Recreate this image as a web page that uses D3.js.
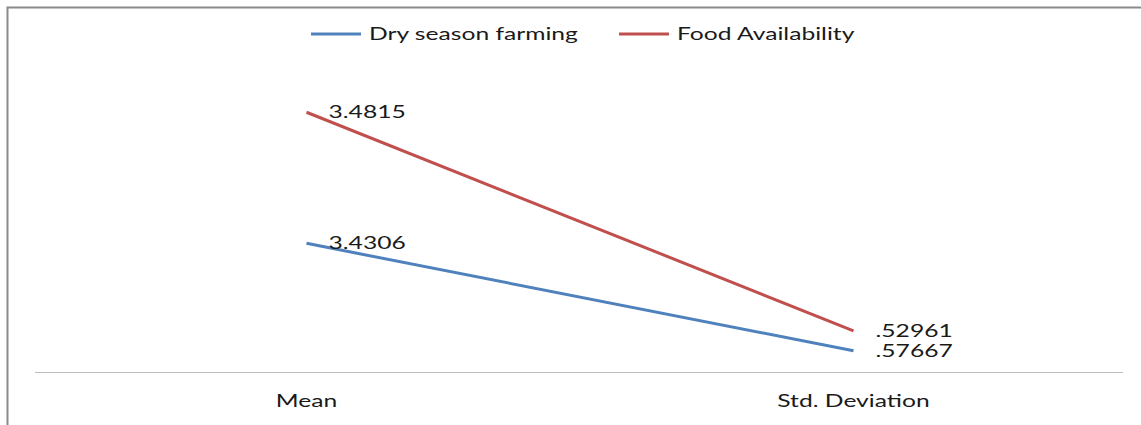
<!DOCTYPE html>
<html>
<head>
<meta charset="utf-8">
<script src="https://cdn.jsdelivr.net/npm/d3@7"></script>
<style>
  html, body { margin: 0; padding: 0; background: #fff; }
  svg { display: block; }
  text { font-family: Lato, "Open Sans", sans-serif; fill: #1a1a1a; }
</style>
</head>
<body>
<svg id="chart" width="1141" height="425"></svg>
<script>
// Statistics compared
const categories = ["Mean", "Std. Deviation"];
const seriesNames = ["Dry season farming", "Food Availability"];
const dryFarming = [3.4306, 0.57667];
const foodAvailability = [3.4815, 0.52961];
const valueLabels = [["3.4306", ".57667"], ["3.4815", ".52961"]];
const colors = ["#4f81bd", "#c0504d"];

const W = 1141, H = 425;
const svg = d3.select("#chart");
const textStretch = 1.45;
const fontSize = "17px";

// frame
svg.append("path")
  .attr("d", `M7.5,${H} V7.5 H${W}`)
  .attr("fill", "none")
  .attr("stroke", "#8a8a8a")
  .attr("stroke-width", 2);

const rows = categories.map((c, i) => ({
  category: c,
  [seriesNames[0]]: dryFarming[i],
  [seriesNames[1]]: foodAvailability[i]
}));
const stacked = d3.stack().keys(seriesNames)(rows);

const x = d3.scaleBand().domain(categories).range([33, 1127]);
const y = d3.scaleLinear().domain([0, 8]).range([372.5, 71.3]);
const cx = c => x(c) + x.bandwidth() / 2;

// category axis
const axis = svg.append("g").attr("transform", `translate(0,${y(0)})`)
  .call(d3.axisBottom(x).tickSize(0).tickPadding(0));
axis.select(".domain").attr("stroke", "#bfbfbf").attr("stroke-width", 1.2)
  .attr("d", `M35,0 H1123`);
axis.selectAll(".tick text").remove();
axis.selectAll(".tick").append("text")
  .attr("transform", `translate(0,34) scale(${textStretch},1)`)
  .attr("text-anchor", "middle")
  .style("font-size", fontSize)
  .text(d => d);

const line = d3.line()
  .x(d => cx(d.data.category))
  .y(d => y(d[1]));

// series lines
svg.selectAll(".series")
  .data(stacked)
  .join("path")
  .attr("class", "series")
  .attr("d", s => line(s))
  .attr("fill", "none")
  .attr("stroke", (s, i) => colors[i])
  .attr("stroke-width", 3);

// value labels
stacked.forEach((s, i) => {
  svg.selectAll(null)
    .data(s)
    .join("text")
    .attr("transform", d => `translate(${cx(d.data.category) + 22},${y(d[1])}) scale(${textStretch},1)`)
    .attr("dy", "0.36em")
    .style("font-size", fontSize)
    .text((d, j) => valueLabels[i][j]);
});

// legend
const legendItems = [{ x: 311, name: seriesNames[0], color: colors[0] },
                     { x: 619, name: seriesNames[1], color: colors[1] }];
const lg = svg.selectAll(".legend").data(legendItems).join("g")
  .attr("class", "legend")
  .attr("transform", d => `translate(${d.x},34)`);
lg.append("line").attr("x1", 0).attr("x2", 50)
  .attr("stroke", d => d.color).attr("stroke-width", 3);
lg.append("text")
  .attr("transform", `translate(58,0) scale(${textStretch},1)`)
  .attr("dy", "0.36em")
  .style("font-size", fontSize)
  .text(d => d.name);
</script>
</body>
</html>
